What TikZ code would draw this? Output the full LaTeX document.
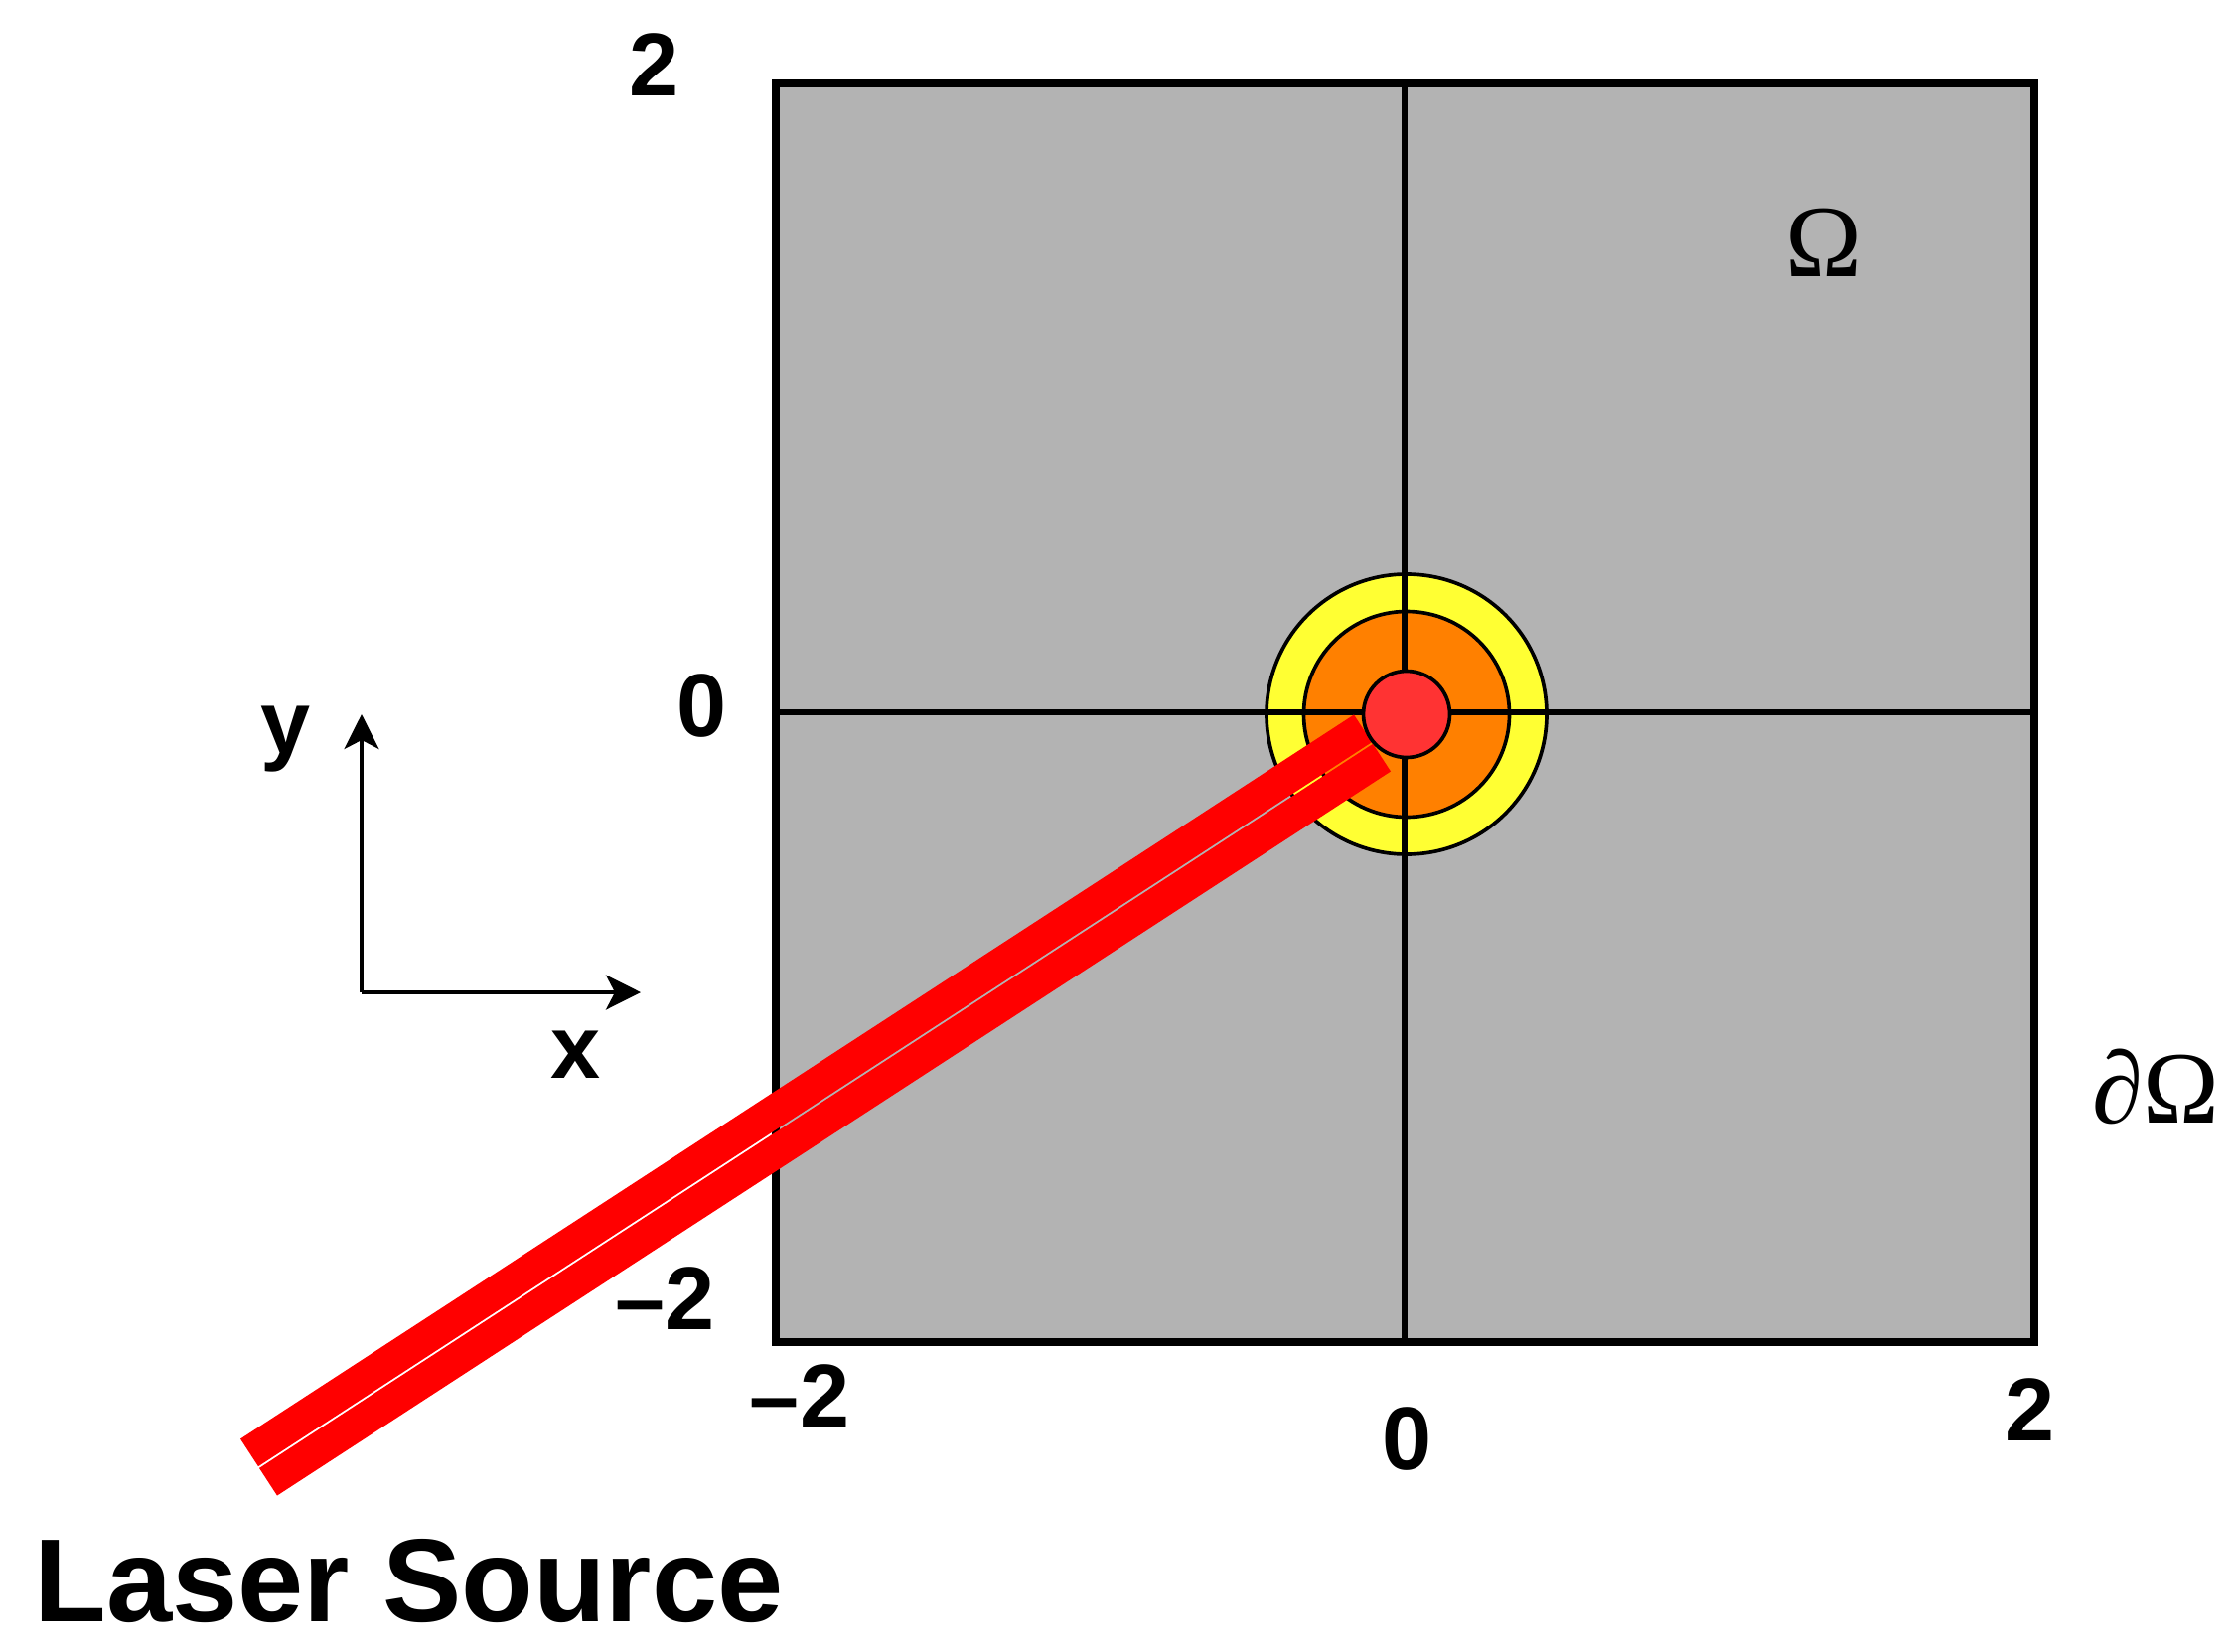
\documentclass[tikz,border=0pt]{standalone}
\usepackage{fontspec}
\setmainfont{Liberation Sans}
\newfontfamily\seriffont{Liberation Serif}
\usetikzlibrary{arrows.meta}
\definecolor{domgray}{RGB}{179,179,179}
\definecolor{zoneyellow}{RGB}{255,255,51}
\definecolor{zoneorange}{RGB}{255,128,0}
\definecolor{zonered}{RGB}{255,51,51}
\definecolor{beamred}{RGB}{255,0,0}
\begin{document}
\begin{tikzpicture}[x=0.3pt,y=-0.3pt,
  num/.style={font=\fontsize{27}{30}\selectfont\bfseries, inner sep=0pt, anchor=base},
  axlabel/.style={font=\fontsize{27}{30}\selectfont\bfseries, inner sep=0pt, anchor=base},
  greek/.style={font=\seriffont\fontsize{31}{34}\selectfont, inner sep=0pt, anchor=base},
  zone/.style={draw=black, line width=1.1pt},
  cross/.style={draw=black, line width=1.7pt},
  beam/.style={draw=beamred, line width=9.9pt},
  axarrow/.style={draw=black, line width=1.1pt, -{Stealth[length=10.5pt, width=10.5pt, inset=2.7pt]}}]
\useasboundingbox (0,0) rectangle (2251,1662);
% domain
\fill[domgray] (781,84) rectangle (2048,1351);
% heated zones
\coordinate (c) at (1416,719);
\filldraw[zone, fill=zoneyellow] (c) circle[radius=141];
\filldraw[zone, fill=zoneorange] (c) circle[radius=103.5];
% cross lines
\coordinate (hl) at (781,717);
\coordinate (hr) at (2048,717);
\coordinate (vt) at (1414,84);
\coordinate (vb) at (1414,1351);
\draw[cross] (hl) -- (hr);
\draw[cross] (vt) -- (vb);
% border
\draw[line width=2.4pt] (781,84) rectangle (2048,1351);
% laser beam
\coordinate (ua) at (251,1462.3);
\coordinate (ub) at (1372,733.3);
\coordinate (la) at (270,1491.7);
\coordinate (lb) at (1391,762.7);
\draw[beam] (ua) -- (ub);
\draw[beam] (la) -- (lb);
% spot
\filldraw[zone, fill=zonered] (c) circle[radius=43.5];
% coordinate axes
\coordinate (o) at (364,999);
\coordinate (ytip) at (364,719);
\coordinate (xtip) at (645,999);
\draw[axarrow] (o) -- (ytip);
\draw[axarrow] (o) -- (xtip);
\node[axlabel] (ylab) at (288,758) {y};
\node[axlabel] (xlab) at (580,1085) {x};
% tick labels
\node[num] (t2) at (659,97) {2};
\node[num] (t0l) at (707,741) {0};
\node[num] (tm2l) at (670,1338) {–2};
\node[num] (tm2b) at (805,1436) {–2};
\node[num] (t0b) at (1416,1479) {0};
\node[num] (t2b) at (2043,1450) {2};
% region labels
\node[greek] (om) at (1836,279) {Ω};
\node[greek] (dom) at (2170,1130) {∂Ω};
% laser source
\node[font=\fontsize{35.7}{40}\selectfont\bfseries, inner sep=0pt, anchor=base west] (ls) at (34,1632) {Laser Source};
\end{tikzpicture}
\end{document}
